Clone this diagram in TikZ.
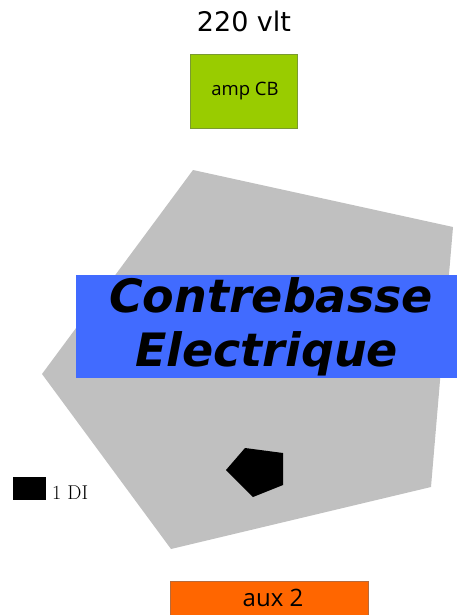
\documentclass[tikz,border=0pt]{standalone}
\usepackage{fontspec}
\usepackage{tikz}
\usetikzlibrary{positioning}
\newfontfamily\dvsans{DejaVu Sans}
\newfontfamily\opsans{Open Sans}
\definecolor{ampCol}{HTML}{99CC00}
\definecolor{ampEdge}{HTML}{7A9A30}
\definecolor{bodyCol}{HTML}{C0C0C0}
\definecolor{titleCol}{HTML}{416BFF}
\definecolor{auxCol}{HTML}{FF6600}
\definecolor{auxEdge}{HTML}{B86A3A}
\tikzset{
  plug/.style n args={2}{fill=#1, draw=#2, line width=0.5pt, inner sep=0pt, align=center},
  voltlbl/.style={font=\dvsans\fontsize{27}{32}\selectfont, inner sep=0pt},
  titlebox/.style={fill=titleCol, inner sep=0pt, align=center, minimum width=381pt, minimum height=103pt,
        font=\dvsans\bfseries\itshape\fontsize{46}{54}\selectfont},
  dibox/.style={fill=black, inner sep=0pt, minimum width=33pt, minimum height=23pt},
  dilbl/.style={font=\fontsize{20}{22}\selectfont, inner sep=0pt},
}
\begin{document}
\begin{tikzpicture}[x=1pt, y=-1pt]
  \useasboundingbox (0,0) rectangle (457,615);
  % supply
  \node[voltlbl, anchor=base] (volt) at (244,32) {220 vlt};
  \node[plug={ampCol}{ampEdge}, minimum width=107pt, minimum height=74pt,
        font=\opsans\fontsize{18.5}{20}\selectfont] (amp) at (243.5,91) {\hspace*{3pt}amp CB};
  % bass body
  \fill[bodyCol] (193,170) -- (453,227) -- (431,487) -- (171,549) -- (42,374) -- cycle;
  \node[titlebox] (title) at (266.5,326.5) {\hspace*{9pt}Contrebasse\\Electrique};
  % pickup
  \fill[black] (226,470) -- (245,448) -- (283,453) -- (283,485) -- (253,497) -- cycle;
  % DI
  \node[dibox] (di) at (29.5,488.5) {};
  \node[dilbl, anchor=base west] (dilbl) at (52,499) {1 DI};
  % aux
  \node[plug={auxCol}{auxEdge}, minimum width=198pt, minimum height=34pt,
        font=\opsans\fontsize{24}{26}\selectfont] (aux) at (269,598) {\hspace*{8pt}aux 2};
\end{tikzpicture}
\end{document}
